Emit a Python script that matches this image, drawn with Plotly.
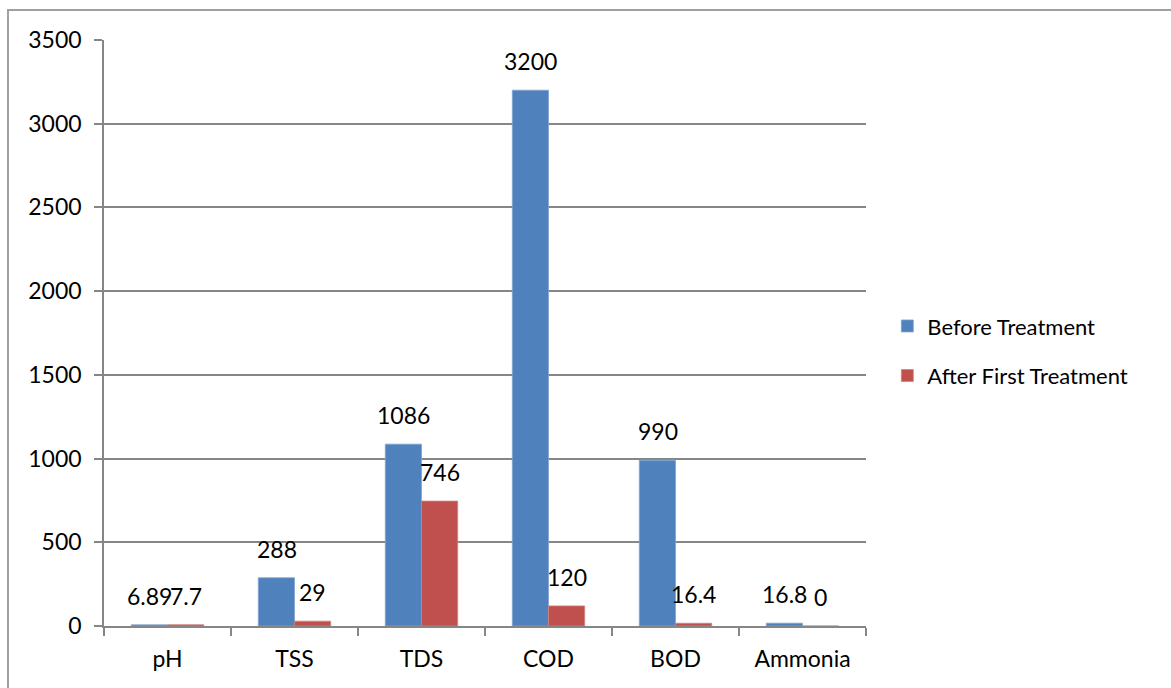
import plotly.graph_objects as go

categories = ["pH", "TSS", "TDS", "COD", "BOD", "Ammonia"]
before_treatment = [6.89, 288, 1086, 3200, 990, 16.8]
after_first_treatment = [7.7, 29, 746, 120, 16.4, 0]
before_labels = ["6.89", "288", "1086", "3200", "990", "16.8"]
after_labels = ["7.7", "29", "746", "120", "16.4", "0"]
y_ticks = [0, 500, 1000, 1500, 2000, 2500, 3000, 3500]

FONT = "Lato, Calibri, Carlito, sans-serif"
AXIS_GRAY = "#868686"
LABEL_SIZE = 23
LEGEND_SIZE = 22

fig = go.Figure()
fig.add_trace(go.Bar(
    x=categories, y=before_treatment, name="Before Treatment",
    marker=dict(color="#4F81BD", line=dict(color="#7FA3D1", width=0.8)),
    legendgroup="a",
))
fig.add_trace(go.Bar(
    x=categories, y=after_first_treatment, name="After First Treatment",
    marker=dict(color="#C0504D", line=dict(color="#D4817F", width=0.8)),
    legendgroup="b",
))

# value labels floating above each bar of the grouped pair
for cat, val, lab in zip(categories, before_treatment, before_labels):
    fig.add_annotation(x=cat, y=val, text=lab, showarrow=False,
                       xanchor="center", yanchor="bottom", xshift=-18, yshift=13,
                       font=dict(size=LABEL_SIZE, family=FONT, color="#000000"))
for cat, val, lab in zip(categories, after_first_treatment, after_labels):
    fig.add_annotation(x=cat, y=val, text=lab, showarrow=False,
                       xanchor="center", yanchor="bottom", xshift=18, yshift=13,
                       font=dict(size=LABEL_SIZE, family=FONT, color="#000000"))

fig.update_layout(
    width=1171, height=688,
    margin=dict(l=104, r=305, t=40, b=62),
    paper_bgcolor="white", plot_bgcolor="white",
    font=dict(family=FONT, size=LABEL_SIZE, color="#000000"),
    barmode="group", bargap=0.43, bargroupgap=0,
    legend=dict(
        x=1.028, y=0.469, xanchor="left", yanchor="middle",
        font=dict(size=LEGEND_SIZE, family=FONT), tracegroupgap=18,
        bgcolor="rgba(0,0,0,0)",
    ),
    showlegend=True,
)

fig.update_yaxes(
    range=[0, 3500], tickvals=y_ticks, showgrid=True, gridcolor=AXIS_GRAY,
    gridwidth=1.5, showline=True, linecolor=AXIS_GRAY, linewidth=1.5,
    ticks="outside", ticklen=8, tickcolor=AXIS_GRAY, tickwidth=1.5,
    ticklabelstandoff=8, zeroline=False,
    tickfont=dict(size=LABEL_SIZE, family=FONT),
)
fig.update_xaxes(
    showline=True, linecolor=AXIS_GRAY, linewidth=1.5,
    ticks="outside", ticklen=8, tickcolor=AXIS_GRAY, tickwidth=1.5,
    tickson="boundaries", ticklabelstandoff=12,
    tickfont=dict(size=LABEL_SIZE, family=FONT),
)

# outer chart frame
fig.add_shape(
    type="rect", xref="paper", yref="paper",
    x0=-0.126, x1=1.6, y0=-0.2, y1=1.051,
    line=dict(color="#A0A0A0", width=2), fillcolor="rgba(0,0,0,0)",
    layer="below",
)

fig.write_html("out.html")
